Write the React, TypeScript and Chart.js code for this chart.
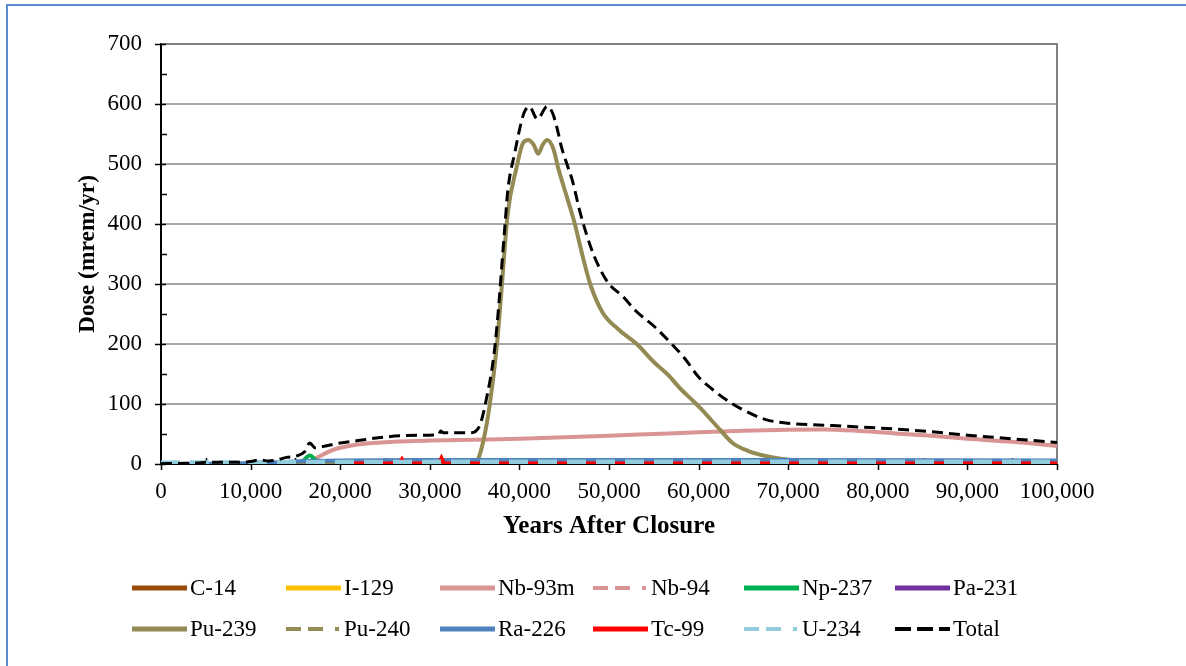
import React, { useEffect, useRef } from "react";
import { Chart, registerables } from "chart.js";

Chart.register(...registerables);

const FONT = "'Liberation Serif', 'Times New Roman', serif";

// Axis tick labels
const xTickValues = [0, 10000, 20000, 30000, 40000, 50000, 60000, 70000, 80000, 90000, 100000];
const yTickValues = [0, 100, 200, 300, 400, 500, 600, 700];

// Series data (years after closure, dose mrem/yr)
const c14Years = [0, 50000, 100000];
const c14Dose = [0, 0, 0];

const i129Years = [0, 50000, 100000];
const i129Dose = [0, 0, 0];

const nb93mYears = [0, 12000, 15000, 16500, 17500, 18500, 19500, 21000, 23000, 26000, 30000, 35000, 40000, 45000, 50000, 55000, 60000, 65000, 70000, 74000, 78000, 82000, 86000, 90000, 95000, 100000];
const nb93mDose = [0, 0, 1, 4, 11, 19, 25, 30, 34, 37, 39, 40.5, 42, 44.5, 47, 50, 53, 55.5, 57, 57.5, 55, 51, 47, 42, 37, 30];

const nb94Years = [0, 50000, 100000];
const nb94Dose = [0, 0, 0];

const np237Years = [0, 15000, 15800, 16600, 17300, 18000, 20000, 100000];
const np237Dose = [0, 0, 5, 14, 6, 1, 0, 0];

const pa231Years = [0, 50000, 100000];
const pa231Dose = [0, 0, 0];

const pu239Years = [0, 34800, 35300, 36000, 36700, 37500, 38000, 38700, 39700, 40400, 41000, 41600, 42100, 42600, 43100, 43800, 44300, 45300, 46100, 47000, 47900, 49300, 51000, 53100, 55000, 56500, 58000, 59400, 60200, 62400, 63800, 65500, 67600, 71300, 75000, 80000, 100000];
const pu239Dose = [0, 0, 5, 40, 100, 200, 290, 418, 495, 535, 540, 532, 517, 532, 540, 525, 495, 445, 405, 350, 300, 252, 225, 200, 170, 150, 125, 105, 93, 57, 35, 22, 13, 5, 1, 0, 0];

const pu240Years = [0, 50000, 100000];
const pu240Dose = [0, 0, 0];

const ra226Years = [0, 5000, 10000, 13000, 16000, 20000, 30000, 50000, 70000, 100000];
const ra226Dose = [0, 0.5, 1.5, 3, 5, 6, 6.5, 6.5, 6.5, 6];

const tc99Years = [20000, 26600, 26900, 27200, 31000, 31300, 31600, 100000];
const tc99Dose = [0.8, 0.8, 8, 0.8, 0.8, 10, 0.8, 0.8];

const u234Years = [0, 20000, 50000, 100000];
const u234Dose = [1, 2, 2.5, 2.5];

const totalYears = [0, 2000, 4000, 5000, 8000, 10000, 11000, 12000, 13000, 14000, 15000, 16000, 16600, 17200, 18000, 20000, 22000, 25000, 29000, 31000, 31200, 31500, 34500, 35500, 36200, 37300, 38400, 38700, 39500, 40300, 40600, 41100, 42000, 43100, 43700, 44200, 44700, 45300, 45900, 46800, 48000, 49000, 50000, 51500, 53000, 55000, 57000, 58500, 60000, 61500, 63000, 65000, 67500, 70000, 75000, 80000, 85000, 90000, 95000, 100000];
const totalDose = [0.5, 1, 1.5, 3, 3, 4, 7, 5, 7, 11, 13, 20, 35, 27, 29, 35, 39, 45, 48, 49, 55, 52, 52, 62, 100, 200, 400, 455, 520, 575, 588, 596, 575, 596, 585, 560, 528, 500, 473, 418, 360, 325, 300, 280, 255, 230, 200, 175, 145, 125, 108, 90, 74, 68, 64, 60, 55, 48, 42, 36];

type Series = {
  name: string;
  years: number[];
  dose: number[];
  color: string;
  width: number;
  dash: number[];
  legendWidth: number;
  legendDash: string;
  tension?: number;
};

const DASH_DOT = [15, 7, 15, 12, 4, 12];
const DASH_DOT_SVG = "15 7 15 12 4 100";

const series: Series[] = [
  { name: "C-14", years: c14Years, dose: c14Dose, color: "#984807", width: 3, dash: [], legendWidth: 5, legendDash: "" },
  { name: "I-129", years: i129Years, dose: i129Dose, color: "#FFC000", width: 3, dash: [], legendWidth: 5, legendDash: "" },
  { name: "Nb-93m", years: nb93mYears, dose: nb93mDose, color: "#D99594", width: 4, dash: [], legendWidth: 5, legendDash: "" },
  { name: "Nb-94", years: nb94Years, dose: nb94Dose, color: "#D99594", width: 3, dash: DASH_DOT, legendWidth: 4, legendDash: DASH_DOT_SVG },
  { name: "Np-237", years: np237Years, dose: np237Dose, color: "#00B050", width: 4, dash: [], legendWidth: 5, legendDash: "" },
  { name: "Pa-231", years: pa231Years, dose: pa231Dose, color: "#7030A0", width: 3, dash: [], legendWidth: 5, legendDash: "" },
  { name: "Pu-239", years: pu239Years, dose: pu239Dose, color: "#948A54", width: 4, dash: [], legendWidth: 5, legendDash: "" },
  { name: "Pu-240", years: pu240Years, dose: pu240Dose, color: "#948A54", width: 3, dash: DASH_DOT, legendWidth: 4, legendDash: DASH_DOT_SVG },
  { name: "Ra-226", years: ra226Years, dose: ra226Dose, color: "#4F81BD", width: 4, dash: [], legendWidth: 5, legendDash: "" },
  { name: "Tc-99", years: tc99Years, dose: tc99Dose, color: "#FF0000", width: 4, dash: [], legendWidth: 5, legendDash: "", tension: 0 },
  { name: "U-234", years: u234Years, dose: u234Dose, color: "#93CDDD", width: 6, dash: [19, 10], legendWidth: 4, legendDash: DASH_DOT_SVG },
  { name: "Total", years: totalYears, dose: totalDose, color: "#000000", width: 3, dash: [11, 6], legendWidth: 4, legendDash: "16 6" },
];

const legendCols = [132, 286, 440, 593, 744, 895];
const legendRows = [588, 629];

const decorPlugin = {
  id: "decor",
  beforeDatasetsDraw(chart: any) {
    const { ctx, chartArea: a, scales } = chart;
    const x = scales.x;
    const y = scales.y;
    ctx.save();
    ctx.strokeStyle = "#808080";
    ctx.lineWidth = 2;
    ctx.beginPath();
    ctx.moveTo(a.left, a.top);
    ctx.lineTo(a.right, a.top);
    ctx.lineTo(a.right, a.bottom);
    ctx.stroke();
    ctx.strokeStyle = "#000";
    ctx.lineWidth = 1.5;
    for (let v = 0; v <= 700; v += 50) {
      const py = Math.round(y.getPixelForValue(v)) + 0.5;
      ctx.beginPath();
      if (v % 100 === 0) {
        ctx.moveTo(a.left - 6, py);
        ctx.lineTo(a.left + 5, py);
      } else {
        ctx.moveTo(a.left, py);
        ctx.lineTo(a.left + 6, py);
      }
      ctx.stroke();
    }
    for (let v = 0; v <= 100000; v += 5000) {
      const px = Math.round(x.getPixelForValue(v)) + 0.5;
      ctx.beginPath();
      if (v % 10000 === 0) {
        ctx.moveTo(px, a.bottom);
        ctx.lineTo(px, a.bottom + 6);
      } else {
        ctx.moveTo(px, a.bottom);
        ctx.lineTo(px, a.bottom - 6);
      }
      ctx.stroke();
    }
    ctx.restore();
  },
  afterDraw(chart: any) {
    const { ctx, chartArea: a } = chart;
    ctx.save();
    ctx.fillStyle = "#000";
    ctx.textAlign = "center";
    ctx.textBaseline = "middle";
    ctx.font = `bold 25px ${FONT}`;
    ctx.fillText("Years After Closure", (a.left + a.right) / 2, a.bottom + 63);
    ctx.font = `bold 23.5px ${FONT}`;
    ctx.translate(a.left - 73, (a.top + a.bottom) / 2);
    ctx.rotate(-Math.PI / 2);
    ctx.fillText("Dose (mrem/yr)", 0, 0);
    ctx.restore();
  },
};

export default function App() {
  const ref = useRef<HTMLCanvasElement>(null);

  useEffect(() => {
    const n = series.length;
    const datasets = series.map((s, i) => ({
      label: s.name,
      data: s.years.map((yr, k) => ({ x: yr, y: s.dose[k] })),
      borderColor: s.color,
      backgroundColor: s.color,
      borderWidth: s.width,
      borderDash: s.dash,
      pointRadius: 0,
      fill: false,
      cubicInterpolationMode: s.tension === 0 ? "default" : "monotone",
      tension: s.tension === 0 ? 0 : 0.4,
      order: n - 1 - i,
    }));
    const chart = new Chart(ref.current as HTMLCanvasElement, {
      type: "line",
      data: { datasets } as any,
      options: {
        responsive: false,
        animation: false,
        events: [],
        layout: { padding: { left: 0, top: 44, right: 129, bottom: 0 } },
        plugins: { legend: { display: false }, tooltip: { enabled: false } },
        scales: {
          x: {
            type: "linear",
            min: 0,
            max: 100000,
            afterFit: (s: any) => {
              s.height = 202;
            },
            afterBuildTicks: (s: any) => {
              s.ticks = xTickValues.map((v) => ({ value: v }));
            },
            ticks: {
              autoSkip: false,
              maxRotation: 0,
              padding: 14,
              color: "#000",
              font: { family: FONT, size: 23 },
              callback: (v: any) => Number(v).toLocaleString("en-US"),
            },
            grid: { display: false, drawTicks: false },
            border: { display: true, color: "#000", width: 2 },
          },
          y: {
            type: "linear",
            min: 0,
            max: 700,
            afterFit: (s: any) => {
              s.width = 161;
            },
            afterBuildTicks: (s: any) => {
              s.ticks = yTickValues.map((v) => ({ value: v }));
            },
            ticks: {
              padding: 19,
              color: "#000",
              font: { family: FONT, size: 23 },
              callback: (v: any) => String(v),
            },
            grid: { color: "#A6A6A6", lineWidth: 2, drawTicks: false },
            border: { display: true, color: "#000", width: 2 },
          },
        },
      },
      plugins: [decorPlugin],
    } as any);
    return () => chart.destroy();
  }, []);

  return (
    <div style={{ position: "fixed", left: 0, top: 0, width: 1186, height: 666, overflow: "hidden", background: "#fff" }}>
      <div
        style={{
          position: "absolute",
          left: 6,
          top: 4,
          width: 1300,
          height: 800,
          borderLeft: "2px solid #5B8BD0",
          borderTop: "2px solid #5B8BD0",
        }}
      />
      <canvas ref={ref} width={1186} height={666} style={{ position: "absolute", left: 0, top: 0, width: 1186, height: 666 }} />
      {series.map((s, i) => {
        const col = i % 6;
        const row = Math.floor(i / 6);
        return (
          <div
            key={s.name}
            style={{
              position: "absolute",
              left: legendCols[col],
              top: legendRows[row] - 15,
              height: 30,
              display: "flex",
              alignItems: "center",
              fontFamily: FONT,
              fontSize: 23,
              color: "#000",
              whiteSpace: "nowrap",
            }}
          >
            <svg width={55} height={10} style={{ display: "block" }}>
              <line
                x1={0}
                y1={5}
                x2={55}
                y2={5}
                stroke={s.color}
                strokeWidth={s.legendWidth}
                strokeDasharray={s.legendDash || undefined}
              />
            </svg>
            <span style={{ marginLeft: 3, lineHeight: "30px" }}>{s.name}</span>
          </div>
        );
      })}
    </div>
  );
}
